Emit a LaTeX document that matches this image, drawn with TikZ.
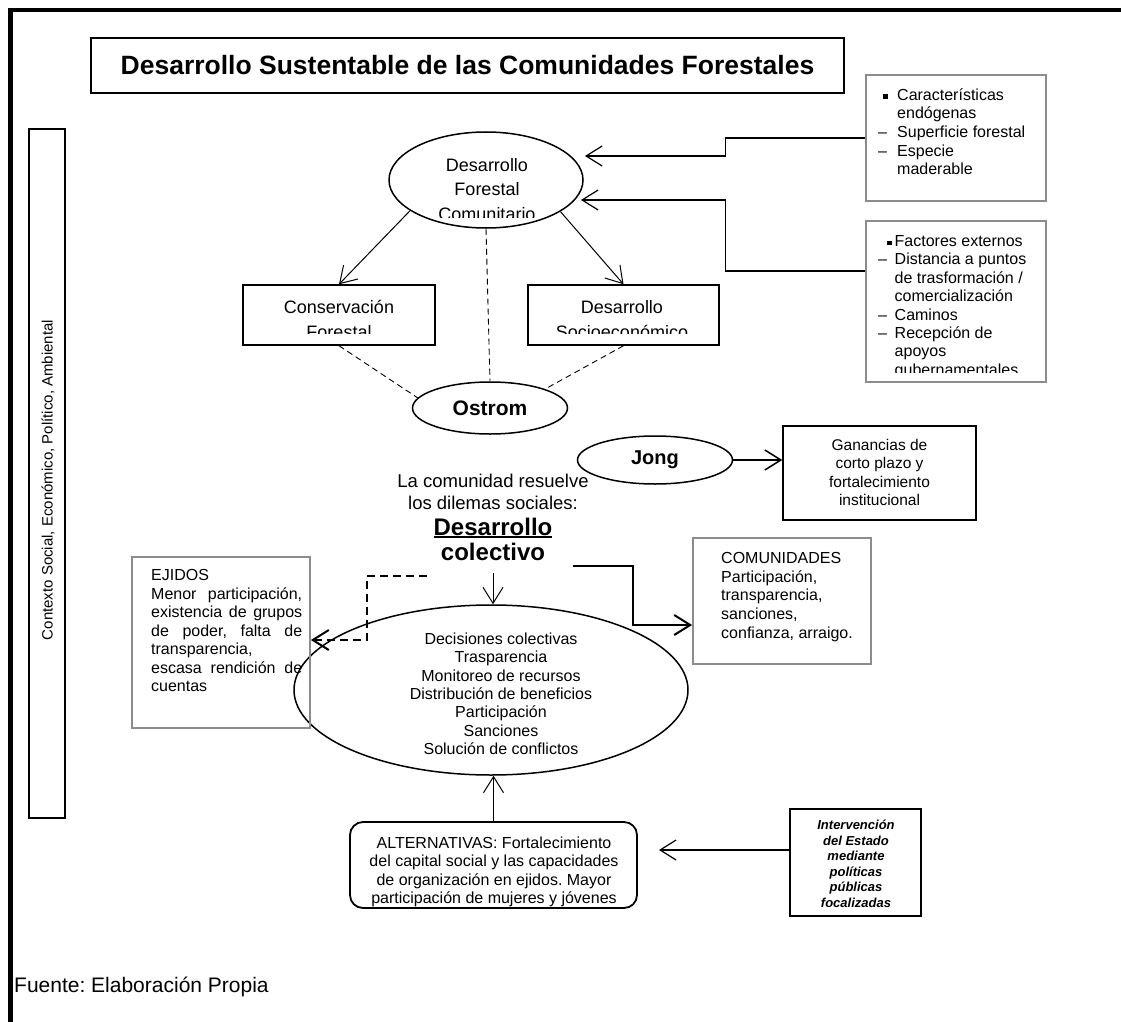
\documentclass[tikz,border=0pt]{standalone}
\usepackage{fontspec}
\setmainfont{Liberation Sans}
\usetikzlibrary{arrows.meta,shapes.geometric}
\definecolor{boxgray}{HTML}{8C8C8C}
\newcommand\fsz[2]{\fontsize{#1pt}{#2pt}\selectfont}
\newcommand\sqb{\rule[1.5pt]{4.5pt}{4.5pt}}
\newcommand\jl[1]{\makebox[\linewidth][s]{#1}}
\newcommand\ulbold[1]{\leavevmode\vtop{\hbox{#1}\kern1.2pt\hrule height 1.8pt}}
\frenchspacing
\begin{document}
\begin{tikzpicture}[x=1pt,y=-1pt,
  barb/.style={-{Straight Barb[length=16pt,width=20pt]}},
  blackbox/.style={draw,line width=1.5pt,inner sep=0pt},
  graybox/.style={draw=boxgray,line width=1.8pt,inner sep=0pt},
  oval/.style={draw,ellipse,line width=1.5pt,inner sep=0pt},
  txt/.style={inner sep=0pt,anchor=base},
  txtl/.style={inner sep=0pt,anchor=base west},
  fdash/.style={dash pattern=on 6pt off 4pt,line width=0.9pt},
  bdash/.style={dash pattern=on 8pt off 5pt,line width=2pt},
]
\useasboundingbox (0,0) rectangle (1121,1022);
\fill[white] (0,0) rectangle (1121,1022);
% page frame
\draw[line width=4.5pt] (10.5,1022) -- (10.5,10) -- (1121,10);

% title
\node[blackbox,minimum width=753pt,minimum height=55pt] (title) at (467.5,65.5)
  {\fsz{26.5}{30}\bfseries Desarrollo Sustentable de las Comunidades Forestales};

% context box
\node[draw,line width=1.2pt,minimum width=36pt,minimum height=689pt,inner sep=0pt] (ctx) at (47,473.5) {};
\node[rotate=90,inner sep=0pt] (ctxtxt) at (48,480) {\fsz{15}{17}Contexto Social, Económico, Político, Ambiental};

% right gray boxes
\node[graybox,minimum width=180pt,minimum height=126pt] (car) at (956,138) {};
\node[txtl] (cartxt) at (878,100.5) {\parbox[t]{165pt}{\fsz{16}{18.5}%
  \makebox[19pt][l]{\hspace{5pt}\sqb}Características\\
  \hspace*{19pt}endógenas\\
  \makebox[19pt][l]{–}Superficie forestal\\
  \makebox[19pt][l]{–}Especie\\
  \hspace*{19pt}maderable}};

\node[graybox,minimum width=180pt,minimum height=161pt] (fac) at (956,301.5) {};
\begin{scope}
\clip (866,221) rectangle (1046,372);
\node[txtl] (factxt) at (878,246.5) {\parbox[t]{165pt}{\fsz{16}{18.4}%
  \makebox[16.5pt][l]{\hspace{9pt}\sqb}Factores externos\\
  \makebox[16.5pt][l]{–}Distancia a puntos\\
  \hspace*{16.5pt}de trasformación /\\
  \hspace*{16.5pt}comercialización\\
  \makebox[16.5pt][l]{–}Caminos\\
  \makebox[16.5pt][l]{–}Recepción de\\
  \hspace*{16.5pt}apoyos\\
  \hspace*{16.5pt}gubernamentales}};
\end{scope}

% DFC ellipse
\node[oval,minimum width=194pt,minimum height=96pt] (dfc) at (486,180) {};
\begin{scope}
\clip (380,120) rectangle (600,217);
\node[txt] (dfctxt) at (487,171) {\parbox[t]{150pt}{\centering\fsz{18}{24.5}Desarrollo\\Forestal\\Comunitario}};
\end{scope}

\coordinate (dfcA) at (585,156);
\coordinate (dfcB) at (581,200);
\draw[barb,line width=1.2pt] (car.west) -- ++(-140,0) |- (dfcA);
\draw[barb,line width=1.2pt] ([yshift=30.5pt]fac.west) -- ++(-140,0) |- (dfcB);

% two boxes
\node[blackbox,minimum width=192pt,minimum height=60pt] (cons) at (339,315) {};
\node[blackbox,minimum width=191pt,minimum height=60pt] (socio) at (623.5,315) {};
\begin{scope}
\clip (243,285) rectangle (719,333);
\node[txt] (constxt) at (339,313) {\parbox[t]{180pt}{\centering\fsz{18}{25}Conservación\\Forestal}};
\node[txt] (sociotxt) at (622,313) {\parbox[t]{180pt}{\centering\fsz{18}{25}Desarrollo\\Socioeconómico}};
\end{scope}
\draw[barb,line width=1pt] (dfc.202) -- (cons.north);
\draw[barb,line width=1pt] (dfc.337) -- (socio.north);

% Ostrom
\node[oval,minimum width=155pt,minimum height=52pt] (ostrom) at (490,408) {\fsz{21}{25}\bfseries Ostrom};
\draw[fdash] (dfc.south) -- (ostrom.north);
\draw[fdash] (cons.south) -- (ostrom.172);
\draw[fdash] (socio.south) -- (ostrom.19);

% Jong
\node[oval,minimum width=155pt,minimum height=48pt] (jong) at (655,460) {\fsz{20}{24}\bfseries Jong};
\node[blackbox,minimum width=193pt,minimum height=94pt] (gan) at (879.5,473) {};
\node[txt] (gantxt) at (879.5,450.5) {\parbox[t]{180pt}{\centering\fsz{15.5}{18.4}Ganancias de\\corto plazo y\\fortalecimiento\\institucional}};
\draw[barb,line width=1.5pt] (jong.east) -- (jong.east -| gan.west);

% middle text
\node[txt] (mid1) at (493,487) {\parbox[t]{250pt}{\centering\fsz{18.5}{22}La comunidad resuelve\\los dilemas sociales:}};
\node[txt] (mid2) at (493,535) {\parbox[t]{200pt}{\centering\fsz{24}{25}\bfseries\ulbold{Desarrollo}\\colectivo}};

% big ellipse
\node[oval,minimum width=394pt,minimum height=170pt] (big) at (491,690) {};
\node[txt] (bigtxt) at (501,644.5) {\parbox[t]{250pt}{\centering\fsz{16}{18.33}Decisiones colectivas\\Trasparencia\\Monitoreo de recursos\\Distribución de beneficios\\Participación\\Sanciones\\Solución de conflictos}};
\draw[barb,line width=1pt] ([yshift=-13pt]mid2.south) -- (mid2.south |- big.north);

% COMUNIDADES
\node[graybox,minimum width=178pt,minimum height=126pt] (com) at (782,601) {};
\node[txtl] (comtxt) at (721,563.5) {\parbox[t]{148pt}{\raggedright\fsz{16}{18.7}COMUNIDADES\\Participación,\\transparencia,\\sanciones,\\confianza, arraigo.}};
\coordinate (cs) at (573,566);
\coordinate (cb) at (633,625);
\draw[barb,line width=2pt] (cs) -| (cb) -- (cb -| com.west);

% EJIDOS
\node[graybox,minimum width=178pt,minimum height=171pt] (eji) at (221,642.5) {};
\node[txtl] (ejitxt) at (151,580.5) {\parbox[t]{151pt}{\fsz{16}{18.5}EJIDOS\\
  \jl{Menor participación,}\\
  \jl{existencia de grupos}\\
  \jl{de poder, falta de}\\
  transparencia,\\
  \jl{escasa rendición de}\\
  cuentas}};
\coordinate (ds) at (427,576);
\coordinate (dc) at (367,640);
\draw[barb,bdash] (ds) -| (dc) -- (dc -| eji.east);

% ALTERNATIVAS
\node[draw,line width=1.8pt,rounded corners=13pt,minimum width=287pt,minimum height=86pt,inner sep=0pt] (alt) at (493.5,865) {};
\node[txt] (alttxt) at (494,848) {\parbox[t]{280pt}{\centering\fsz{16}{18.6}ALTERNATIVAS: Fortalecimiento\\del capital social y las capacidades\\de organización en ejidos. Mayor\\participación de mujeres y jóvenes}};
\draw[barb,line width=1pt] (alt.north) -- (alt.north |- big.south);

% Intervencion
\node[draw,line width=2pt,minimum width=131pt,minimum height=107pt,inner sep=0pt] (int) at (855.5,862.5) {};
\node[txt] (inttxt) at (856,829.5) {\parbox[t]{120pt}{\centering\bfseries\itshape\fsz{13}{15.6}Intervención\\del Estado\\mediante\\políticas\\públicas\\focalizadas}};
\coordinate (ia) at (659,850);
\draw[barb,line width=1.2pt] (int.west |- ia) -- (ia);

% source
\node[txtl] (fuente) at (14,992) {\fsz{21}{24}Fuente: Elaboración Propia};
\end{tikzpicture}
\end{document}
